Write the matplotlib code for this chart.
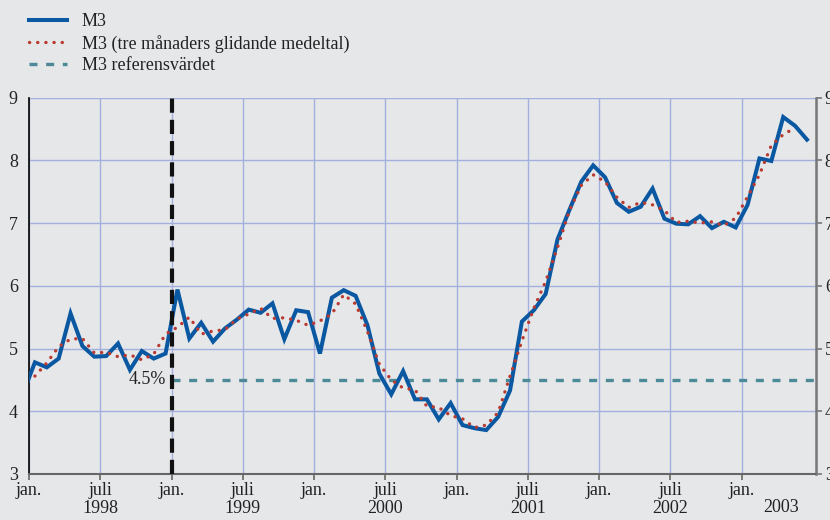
import matplotlib
matplotlib.use("Agg")
import matplotlib.pyplot as plt
from matplotlib.lines import Line2D

plt.rcParams["font.family"] = ["Liberation Serif", "DejaVu Serif"]

# months counted from jan 1998 (0 = jan 1998), first value is dec 1997
months = list(range(-1, 66))
m3 = [4.28,
      4.78, 4.70, 4.84, 5.56, 5.04, 4.87, 4.88, 5.08, 4.66, 4.96, 4.84, 4.92,
      5.94, 5.16, 5.41, 5.11, 5.32, 5.46, 5.62, 5.57, 5.72, 5.15, 5.61, 5.58,
      4.92, 5.81, 5.93, 5.84, 5.37, 4.60, 4.27, 4.64, 4.19, 4.19, 3.87, 4.13,
      3.78, 3.73, 3.70, 3.91, 4.33, 5.43, 5.61, 5.87, 6.74, 7.21, 7.66, 7.92,
      7.73, 7.32, 7.18, 7.26, 7.55, 7.07, 6.99, 6.98, 7.11, 6.92, 7.02, 6.93,
      7.29, 8.03, 7.99, 8.69, 8.55, 8.33]

ma_months = list(range(0, 65))
m3_ma = [4.56, 4.77, 5.03, 5.15, 5.16, 4.93, 4.94, 4.87, 4.90, 4.82, 4.91, 5.23,
         5.34, 5.50, 5.23, 5.28, 5.30, 5.47, 5.55, 5.64, 5.48, 5.49, 5.45, 5.37,
         5.44, 5.55, 5.86, 5.71, 5.27, 4.75, 4.50, 4.37, 4.34, 4.08, 4.06, 3.93,
         3.88, 3.74, 3.78, 3.98, 4.56, 5.12, 5.64, 6.07, 6.61, 7.20, 7.60, 7.77,
         7.66, 7.41, 7.25, 7.33, 7.29, 7.20, 7.01, 7.03, 7.00, 7.02, 6.96, 7.08,
         7.42, 7.77, 8.24, 8.41, 8.52]

ref_start = 12      # jan 1999
ref_value = 4.5

tick_pos = [0, 6, 12, 18, 24, 30, 36, 42, 48, 54, 60]
tick_labels = ["jan.", "juli\n1998", "jan.", "juli\n1999", "jan.", "juli\n2000",
               "jan.", "juli\n2001", "jan.", "juli\n2002", "jan."]
year_2003_pos = 63.3

bg = "#e6e7e9"
blue = "#0a58a2"
red = "#b83a30"
teal = "#4d8a98"
grid_c = "#a3afdc"
txt = "#222222"
fs = 13

fig = plt.figure(figsize=(8.3, 5.2), dpi=100)
fig.patch.set_facecolor(bg)
ax = fig.add_axes([0.0349, 0.0885, 0.9488, 0.7238])
ax.set_facecolor(bg)

x_m3 = [m + 0.5 for m in months]
x_ma = [m + 0.5 for m in ma_months]

ma_style = (0, (0.05, 2.4))
ref_style = (0, (2.4, 2.6))

ax.plot(x_m3, m3, color=blue, lw=2.9, solid_joinstyle="miter", zorder=4)
ax.plot(x_ma, m3_ma, color=red, lw=2.4, linestyle=ma_style,
        dash_capstyle="round", zorder=5)
ax.plot([ref_start, 66.3], [ref_value, ref_value], color=teal, lw=2.4,
        linestyle=ref_style, zorder=3)
ax.axvline(ref_start, color="#111111", lw=3.0, linestyle=(0, (3.4, 1.7)), zorder=6)
ax.text(ref_start - 0.45, ref_value, "4.5%", ha="right", va="center", fontsize=fs,
        color=txt, zorder=7)

ax.set_xlim(0, 66.3)
ax.set_ylim(3, 9)
ax.set_yticks(range(3, 10))
ax.set_xticks(tick_pos)
ax.set_xticklabels(tick_labels, fontsize=fs, color=txt, linespacing=1.05)
ax.text(year_2003_pos, -0.066, "2003", transform=ax.get_xaxis_transform(),
        ha="center", va="top", fontsize=fs, color=txt)

ax.grid(True, color=grid_c, lw=1.0)
ax.set_axisbelow(True)
ax.tick_params(axis="y", length=0, pad=8, labelsize=fs, labelcolor=txt)
ax.tick_params(axis="x", length=4, width=1.2, color="#666666", pad=2)

ax.spines["top"].set_visible(False)
ax.spines["left"].set_color("black")
ax.spines["left"].set_linewidth(1.2)
ax.spines["bottom"].set_color("#666666")
ax.spines["bottom"].set_linewidth(1.5)
ax.spines["right"].set_color("#777777")
ax.spines["right"].set_linewidth(1.8)

# right-hand scale, runs off the edge of the figure like the original
ax2 = ax.twinx()
ax2.set_ylim(3, 9)
ax2.set_yticks(range(3, 10))
ax2.tick_params(axis="y", length=4, width=1.2, color="#777777", pad=2,
                labelsize=fs, labelcolor=txt)
for side in ["top", "left", "bottom", "right"]:
    ax2.spines[side].set_visible(False)

handles = [
    Line2D([], [], color=blue, lw=2.9),
    Line2D([], [], color=red, lw=2.4, linestyle=ma_style, dash_capstyle="round"),
    Line2D([], [], color=teal, lw=2.4, linestyle=ref_style),
]
labels = ["M3", "M3 (tre månaders glidande medeltal)", "M3 referensvärdet"]
fig.legend(handles, labels, loc="upper left", bbox_to_anchor=(0.02, 0.999),
           frameon=False, fontsize=fs, handlelength=2.1, handletextpad=0.8,
           labelspacing=0.25, borderaxespad=0.3, labelcolor=txt)

fig.savefig("out.png", dpi=100, facecolor=bg)
